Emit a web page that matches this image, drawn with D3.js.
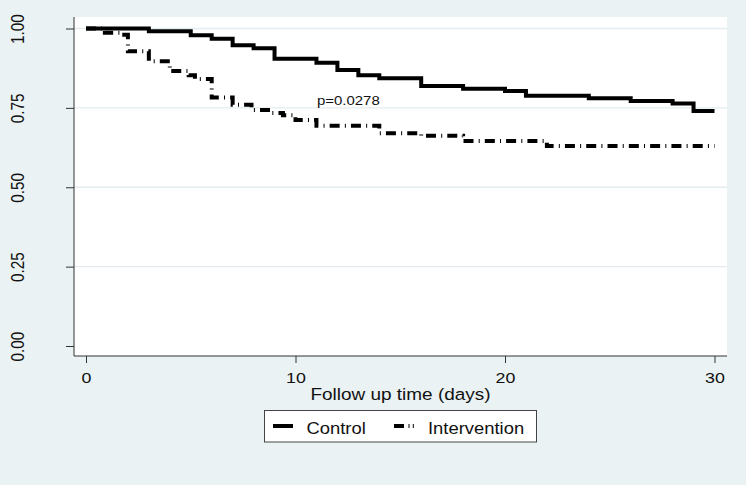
<!DOCTYPE html>
<html><head><meta charset="utf-8">
<script src="https://cdn.jsdelivr.net/npm/d3@7"></script>
<style>
body{margin:0;background:#eaf2f3}
text{font-family:"Liberation Sans",Arial,Helvetica,sans-serif;fill:#111}
</style>
</head><body>
<svg id="c" width="746" height="485"></svg>
<script>
// ---- data ----
const controlDays = [0, 3, 5, 6, 7, 8, 9, 11, 12, 13, 14, 16, 18, 20, 21, 24, 26, 28, 29, 30];
const controlSurvival = [1.000, 0.991, 0.979, 0.968, 0.947, 0.938, 0.905, 0.892, 0.869, 0.853, 0.843, 0.819, 0.810, 0.803, 0.788, 0.780, 0.772, 0.764, 0.740, 0.740];
const interventionDays = [0, 0.9, 1.7, 2, 3, 4, 4.9, 5.2, 6, 7, 7.9, 8.8, 9.4, 10, 11, 14, 16, 18, 22, 30];
const interventionSurvival = [1.000, 0.987, 0.980, 0.928, 0.897, 0.866, 0.853, 0.841, 0.783, 0.760, 0.743, 0.734, 0.727, 0.712, 0.694, 0.670, 0.662, 0.646, 0.630, 0.630];
const xTicks = [0, 10, 20, 30];
const yTicks = [0, 0.25, 0.5, 0.75, 1];
const seriesNames = ["Control", "Intervention"];
const xTitle = "Follow up time (days)";
const pLabel = "p=0.0278";

// ---- layout ----
const SX = 1.15; // horizontal stretch of the reference's text
const plot = {left: 74, right: 727, top: 17, bottom: 356};
const svg = d3.select("#c");
const x = d3.scaleLinear().domain([0, 30]).range([86, 714.5]);
const y = d3.scaleLinear().domain([0, 1]).range([346, 28.5]);

svg.append("rect").attr("width", 746).attr("height", 485).attr("fill", "#eaf2f3");
svg.append("rect").attr("x", plot.left).attr("y", plot.top)
  .attr("width", plot.right - plot.left).attr("height", plot.bottom - plot.top).attr("fill", "#fff");

// grid
svg.append("g").selectAll("line").data(yTicks.filter(d => d > 0)).join("line")
  .attr("x1", plot.left).attr("x2", plot.right)
  .attr("y1", d => y(d)).attr("y2", d => y(d))
  .attr("stroke", "#e4ecef").attr("stroke-width", 1.4);

// y axis
const gy = svg.append("g").attr("transform", `translate(${plot.left},0)`)
  .call(d3.axisLeft(y).tickValues(yTicks).tickSize(8).tickSizeOuter(0).tickFormat(d3.format(".2f")));
gy.select(".domain").remove();
gy.selectAll(".tick line").attr("stroke", "#333");
gy.selectAll(".tick text").attr("x", null).attr("dy", null)
  .attr("transform", `translate(-50.5,0) scale(${SX},1) rotate(-90)`)
  .attr("text-anchor", "middle").style("font-size", "15.3px").style("font-family", null).attr("fill", "#111");

// x axis
const gx = svg.append("g").attr("transform", `translate(0,${plot.bottom})`)
  .call(d3.axisBottom(x).tickValues(xTicks).tickSize(7).tickSizeOuter(0).tickFormat(d3.format("d")));
gx.select(".domain").remove();
gx.selectAll(".tick line").attr("stroke", "#333");
gx.selectAll(".tick text").attr("y", null).attr("dy", null)
  .attr("transform", `translate(0,26.5) scale(${SX},1)`)
  .attr("text-anchor", "middle").style("font-size", "15.5px").style("font-family", null).attr("fill", "#111");

// axis lines
svg.append("line").attr("x1", plot.left).attr("x2", plot.left).attr("y1", plot.top).attr("y2", plot.bottom)
  .attr("stroke", "#333").attr("stroke-width", 1);
svg.append("line").attr("x1", plot.left).attr("x2", plot.right).attr("y1", plot.bottom).attr("y2", plot.bottom)
  .attr("stroke", "#333").attr("stroke-width", 1);

// title
svg.append("text").attr("transform", `translate(400.5,400) scale(${SX},1)`)
  .attr("text-anchor", "middle").style("font-size", "16.5px").text(xTitle);

// curves
const line = d3.line().x(d => x(d[0])).y(d => y(d[1])).curve(d3.curveStepAfter);
const ctrl = controlDays.map((d, i) => [d, controlSurvival[i]]);
const intv = interventionDays.map((d, i) => [d, interventionSurvival[i]]);
const DASH = "10,5.2,1,5.1";
svg.append("path").datum(intv).attr("d", line).attr("fill", "none")
  .attr("stroke", "#000").attr("stroke-width", 4).attr("stroke-dasharray", DASH)
  .attr("stroke-linejoin", "miter");
svg.append("path").datum(ctrl).attr("d", line).attr("fill", "none")
  .attr("stroke", "#000").attr("stroke-width", 4).attr("stroke-linejoin", "miter");

// p label
svg.append("text").attr("transform", `translate(317,105) scale(${SX},1)`)
  .style("font-size", "13px").text(pLabel);

// legend
const lg = svg.append("g");
lg.append("rect").attr("x", 264.5).attr("y", 410.5).attr("width", 272).attr("height", 31.5)
  .attr("fill", "#fff").attr("stroke", "#444").attr("stroke-width", 1);
lg.append("line").attr("x1", 273).attr("x2", 293).attr("y1", 426).attr("y2", 426)
  .attr("stroke", "#000").attr("stroke-width", 4);
lg.append("text").attr("transform", `translate(306.5,434) scale(${SX},1)`)
  .style("font-size", "16px").text(seriesNames[0]);
lg.append("line").attr("x1", 394).attr("x2", 415).attr("y1", 426).attr("y2", 426)
  .attr("stroke", "#000").attr("stroke-width", 4).attr("stroke-dasharray", "10,4.5,1,3.3,1,20");
lg.append("text").attr("transform", `translate(428,434) scale(${SX},1)`)
  .style("font-size", "16px").text(seriesNames[1]);
</script>
</body></html>
